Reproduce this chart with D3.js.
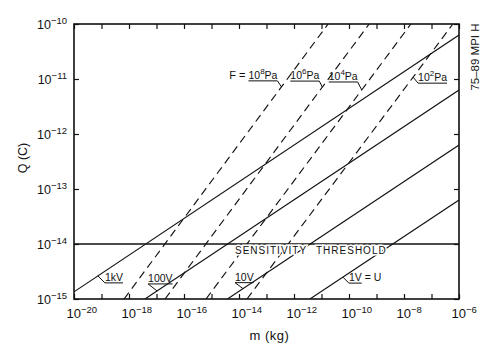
<!DOCTYPE html>
<html>
<head>
<meta charset="utf-8">
<script src="https://cdn.jsdelivr.net/npm/d3@7"></script>
<style>
  body { margin: 0; background: #fff; }
  svg { display: block; font-family: "Liberation Sans", Arial, sans-serif; fill: #111; }
  .frame { fill: none; stroke: #111; stroke-width: 1.6px; }
  .axis path { display: none; }
  .axis line { stroke: #111; stroke-width: 1.2px; }
  .volt { stroke: #111; stroke-width: 1.15px; fill: none; }
  .press { stroke: #111; stroke-width: 1.15px; stroke-dasharray: 8,5; fill: none; }
  .thresh { stroke: #111; stroke-width: 1.5px; }
  .lead { stroke: #111; stroke-width: 1px; fill: none; }
  .halo { paint-order: stroke; stroke: #fff; stroke-width: 3px; }
</style>
</head>
<body>
<div id="chart"></div>
<script>
'use strict'
// solid lines, U = const : end points [m (kg), Q (C)]
const voltLabels = ["1kV", "100V", "10V", "1V"]
const voltStart = [[1e-20, 1.35e-15], [3.8e-18, 1e-15], [3.8e-15, 1e-15], [3.8e-12, 1e-15]]
const voltEnd = [[1e-6, 6.3e-11], [1e-6, 6.3e-12], [1e-6, 6.3e-13], [1e-6, 6.3e-14]]

// dashed lines, F = const (Pa)
const pressExp = ["8", "6", "4", "2"]
const pressStart = [[6.6e-19, 1e-15], [2.04e-17, 1e-15], [6.3e-16, 1e-15], [1.95e-14, 1e-15]]
const pressEnd = [[1.74e-11, 1e-10], [5.4e-10, 1e-10], [1.78e-8, 1e-10], [6.0e-7, 1e-10]]

const threshold = 1e-14
const xTickExp = d3.range(-20, -5)
const xLabelExp = [-20, -18, -16, -14, -12, -10, -8, -6]
const yTickExp = [-15, -14, -13, -12, -11, -10]

// layout
const W = 500, H = 353
const box = {left: 74, right: 459, top: 24, bottom: 299}
// where the label leaders touch the lines (m), and offset of the underline end
const voltTag = [
  {m: 7.4e-20, dx: 7, dy: 7},
  {m: 1.05e-17, dx: -9, dy: -7},
  {m: 1.4e-14, dx: -8, dy: -6},
  {m: 6.0e-11, dx: 6, dy: 6}
]
const pressTag = [
  {m: 3.5e-13, dx: -4, dy: -6, left: true},
  {m: 1.07e-11, dx: -3, dy: -6, left: true},
  {m: 2.9e-10, dx: -4, dy: -8, left: true},
  {m: 2.14e-8, dx: 5, dy: 6, left: false}
]

let svg = d3.select('#chart').append('svg')
  .attr('width', W).attr('height', H)

let x = d3.scaleLog().domain([1e-20, 1e-6]).range([box.left, box.right])
let y = d3.scaleLog().domain([1e-15, 1e-10]).range([box.bottom, box.top])

svg.append('clipPath').attr('id', 'plot')
  .append('rect')
  .attr('x', box.left).attr('y', box.top)
  .attr('width', box.right - box.left).attr('height', box.bottom - box.top)

// ticks, all pointing inward
let xt = xTickExp.map(e => Math.pow(10, e))
let yt = yTickExp.map(e => Math.pow(10, e))
svg.append('g').attr('class', 'axis')
  .attr('transform', 'translate(0,' + box.bottom + ')')
  .call(d3.axisBottom(x).tickValues(xt).tickSize(-5).tickFormat(''))
svg.append('g').attr('class', 'axis')
  .attr('transform', 'translate(0,' + box.top + ')')
  .call(d3.axisTop(x).tickValues(xt).tickSize(-5).tickFormat(''))
svg.append('g').attr('class', 'axis')
  .attr('transform', 'translate(' + box.left + ',0)')
  .call(d3.axisLeft(y).tickValues(yt).tickSize(-5).tickFormat(''))
svg.append('g').attr('class', 'axis')
  .attr('transform', 'translate(' + box.right + ',0)')
  .call(d3.axisRight(y).tickValues(yt).tickSize(-5).tickFormat(''))

// tick labels 10^n
xLabelExp.forEach(function(e) {
  let t = svg.append('text')
    .attr('x', x(Math.pow(10, e)) - 7.5)
    .attr('y', box.bottom + 19)
    .style('font-size', '13px')
  t.append('tspan').text('10')
  t.append('tspan').attr('dy', -5).style('font-size', '9.5px').text('\u2212' + Math.abs(e))
})
yTickExp.forEach(function(e) {
  let t = svg.append('text')
    .attr('x', 67)
    .attr('y', y(Math.pow(10, e)) + 5)
    .attr('text-anchor', 'end')
    .style('font-size', '12.5px')
  t.append('tspan').text('10')
  t.append('tspan').attr('dy', -5).style('font-size', '9.5px').text('\u2212' + Math.abs(e))
})

let plot = svg.append('g').attr('clip-path', 'url(#plot)')
let line = d3.line().x(d => x(d[0])).y(d => y(d[1]))

plot.selectAll('.volt')
  .data(voltLabels.map((l, i) => [voltStart[i], voltEnd[i]]))
  .enter().append('path')
  .attr('class', 'volt')
  .attr('d', line)

plot.selectAll('.press')
  .data(pressExp.map((l, i) => [pressStart[i], pressEnd[i]]))
  .enter().append('path')
  .attr('class', 'press')
  .attr('d', line)

plot.append('line')
  .attr('class', 'thresh')
  .attr('x1', box.left).attr('x2', box.right)
  .attr('y1', y(threshold)).attr('y2', y(threshold))

// Q on a straight log-log line at mass m
function qAt(a, b, m) {
  let f = (Math.log10(m) - Math.log10(a[0])) / (Math.log10(b[0]) - Math.log10(a[0]))
  return Math.pow(10, Math.log10(a[1]) + f * (Math.log10(b[1]) - Math.log10(a[1])))
}

function tag(a, b, t, size, build, underlineW) {
  let ax = x(t.m), ay = y(qAt(a, b, t.m))
  let ex = ax + t.dx, ey = ay + t.dy
  let txt = svg.append('text').attr('y', ey - 2).style('font-size', size)
  build(txt)
  let w = underlineW ? underlineW(txt) : txt.node().getComputedTextLength()
  let x0 = t.left ? ex - w : ex
  txt.attr('x', x0)
  let x1 = x0 + w
  svg.append('path').attr('class', 'lead')
    .attr('d', 'M' + ax + ',' + ay + 'L' + ex + ',' + ey + 'L' + (t.left ? x0 : x1) + ',' + ey)
  return {x0: x0, y: ey}
}

voltLabels.forEach(function(l, i) {
  tag(voltStart[i], voltEnd[i], voltTag[i], '10.5px', function(t) {
    t.append('tspan').attr('class', 'u').text(l)
    if (i == 3) t.append('tspan').text(' = U')
  }, function(t) {
    return t.select('.u').node().getComputedTextLength()
  })
})

pressExp.forEach(function(p, i) {
  let r = tag(pressStart[i], pressEnd[i], pressTag[i], '10.5px', function(t) {
    t.append('tspan').text('10')
    t.append('tspan').attr('dy', -5).style('font-size', '8px').text(p)
    t.append('tspan').attr('dy', 5).text('Pa')
  })
  if (i == 0) {
    svg.append('text')
      .attr('x', r.x0 - 3).attr('y', r.y - 2)
      .attr('text-anchor', 'end')
      .style('font-size', '11px')
      .text('F =')
  }
})

// threshold label
let th = svg.append('text')
  .attr('class', 'halo')
  .attr('y', y(threshold) + 10)
  .style('font-size', '10px')
  .style('letter-spacing', '1px')
th.append('tspan').attr('x', 235).text('SENSITIVITY')
th.append('tspan').attr('x', 316).text('THRESHOLD')

// axis titles
svg.append('text')
  .attr('x', (box.left + box.right) / 2 + 3).attr('y', 340)
  .attr('text-anchor', 'middle')
  .style('font-size', '13px')
  .style('letter-spacing', '0.5px')
  .text('m (kg)')
svg.append('text')
  .attr('transform', 'translate(27,158) rotate(-90)')
  .attr('text-anchor', 'middle')
  .style('font-size', '12.5px')
  .text('Q (C)')
svg.append('text')
  .attr('transform', 'translate(479,57) rotate(-90)')
  .attr('text-anchor', 'middle')
  .style('font-size', '11.5px')
  .text('75\u201389 MPI H')

svg.append('rect').attr('class', 'frame')
  .attr('x', box.left).attr('y', box.top)
  .attr('width', box.right - box.left).attr('height', box.bottom - box.top)
</script>
</body>
</html>
